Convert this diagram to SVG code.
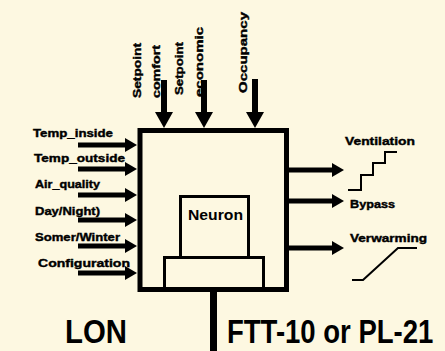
<svg xmlns="http://www.w3.org/2000/svg" width="445" height="351" viewBox="0 0 445 351">
<style>
.bg{fill:#FDF8E1}
.t{font-family:"Liberation Sans",Arial,sans-serif;font-weight:bold;fill:#000}
.s{font-size:11px;stroke:#000;stroke-width:0.4}
.big{font-size:33px}
.thick{fill:none;stroke:#000;stroke-width:5}
.thin{fill:none;stroke:#000;stroke-width:2}
.shaft{stroke:#000;stroke-width:5;fill:none}
</style>
<defs>
<polygon id="ahR" points="0,-7 12,0 0,7" fill="#000"/>
<polygon id="ahD" points="-9,0 9,0 0,16" fill="#000"/>
</defs>
<rect class="bg" x="0" y="0" width="445" height="351"/>

<g id="connectors">
  <!-- top inputs -->
  <line class="shaft" x1="164" y1="80" x2="164" y2="113" style="stroke-width:6"/>
  <use href="#ahD" x="164" y="112"/>
  <line class="shaft" x1="204" y1="80" x2="204" y2="113" style="stroke-width:6"/>
  <use href="#ahD" x="204" y="112"/>
  <line class="shaft" x1="255" y1="79" x2="255" y2="113" style="stroke-width:6"/>
  <use href="#ahD" x="255" y="112"/>
  <!-- left inputs -->
  <line class="shaft" x1="78" y1="145" x2="126" y2="145"/>
  <use href="#ahR" x="125" y="145"/>
  <line class="shaft" x1="78" y1="169" x2="126" y2="169"/>
  <use href="#ahR" x="125" y="169"/>
  <line class="shaft" x1="78" y1="195" x2="126" y2="195"/>
  <use href="#ahR" x="125" y="195"/>
  <line class="shaft" x1="78" y1="220" x2="126" y2="220"/>
  <use href="#ahR" x="125" y="220"/>
  <line class="shaft" x1="78" y1="246" x2="126" y2="246"/>
  <use href="#ahR" x="125" y="246"/>
  <line class="shaft" x1="78" y1="273" x2="126" y2="273"/>
  <use href="#ahR" x="125" y="273"/>
  <!-- right outputs -->
  <line class="shaft" x1="288" y1="170" x2="333" y2="170"/>
  <use href="#ahR" x="332" y="170"/>
  <line class="shaft" x1="288" y1="201" x2="333" y2="201"/>
  <use href="#ahR" x="332" y="201"/>
  <line class="shaft" x1="288" y1="248" x2="333" y2="248"/>
  <use href="#ahR" x="332" y="248"/>
  <!-- bus line -->
  <line x1="213.5" y1="290" x2="213.5" y2="351" stroke="#000" stroke-width="7"/>
</g>

<g id="controller">
  <rect class="thick" x="140" y="130.5" width="146.5" height="159"/>
</g>

<g id="neuron">
  <rect x="180.5" y="196.5" width="68" height="61" fill="none" stroke="#000" stroke-width="3"/>
  <rect x="164.5" y="257.5" width="99" height="31" fill="none" stroke="#000" stroke-width="3"/>
  <text class="t" x="188" y="220" font-size="15" textLength="55" lengthAdjust="spacingAndGlyphs">Neuron</text>
</g>

<g id="inputs-top">
  <text class="t s" transform="translate(141,98) rotate(-90)" textLength="55" lengthAdjust="spacingAndGlyphs">Setpoint</text>
  <text class="t s" transform="translate(160,98) rotate(-90)" textLength="53" lengthAdjust="spacingAndGlyphs">comfort</text>
  <text class="t s" transform="translate(183,95) rotate(-90)" textLength="53" lengthAdjust="spacingAndGlyphs">Setpoint</text>
  <text class="t s" transform="translate(203,97) rotate(-90)" textLength="70" lengthAdjust="spacingAndGlyphs">economic</text>
  <text class="t s" transform="translate(247,93) rotate(-90)" textLength="81" lengthAdjust="spacingAndGlyphs">Occupancy</text>
</g>

<g id="inputs-left">
  <text class="t s" x="33" y="137" textLength="80" lengthAdjust="spacingAndGlyphs">Temp_inside</text>
  <text class="t s" x="34" y="162" textLength="91" lengthAdjust="spacingAndGlyphs">Temp_outside</text>
  <text class="t s" x="35" y="188" textLength="65" lengthAdjust="spacingAndGlyphs">Air_quality</text>
  <text class="t s" x="35" y="215" textLength="65" lengthAdjust="spacingAndGlyphs">Day/Night)</text>
  <text class="t s" x="35" y="241" textLength="85" lengthAdjust="spacingAndGlyphs">Somer/Winter</text>
  <text class="t s" x="38" y="267" textLength="92" lengthAdjust="spacingAndGlyphs">Configuration</text>
</g>

<g id="ventilation">
  <text class="t s" x="345" y="145" textLength="70" lengthAdjust="spacingAndGlyphs">Ventilation</text>
  <polyline class="thin" points="348,190 361,190 361,175 373,175 373,163 385,163 385,152 397,152"/>
</g>

<g id="bypass">
  <text class="t s" x="350" y="208" textLength="45" lengthAdjust="spacingAndGlyphs">Bypass</text>
</g>

<g id="verwarming">
  <text class="t s" x="350" y="242" textLength="77" lengthAdjust="spacingAndGlyphs">Verwarming</text>
  <polyline class="thin" points="352,280 363,280 398,248 417,248"/>
</g>

<g id="bus-labels">
  <text class="t big" transform="translate(65,343) scale(0.89,1)">LON</text>
  <text class="t big" transform="translate(227,343) scale(0.834,1)">FTT-10 or PL-21</text>
</g>
</svg>
